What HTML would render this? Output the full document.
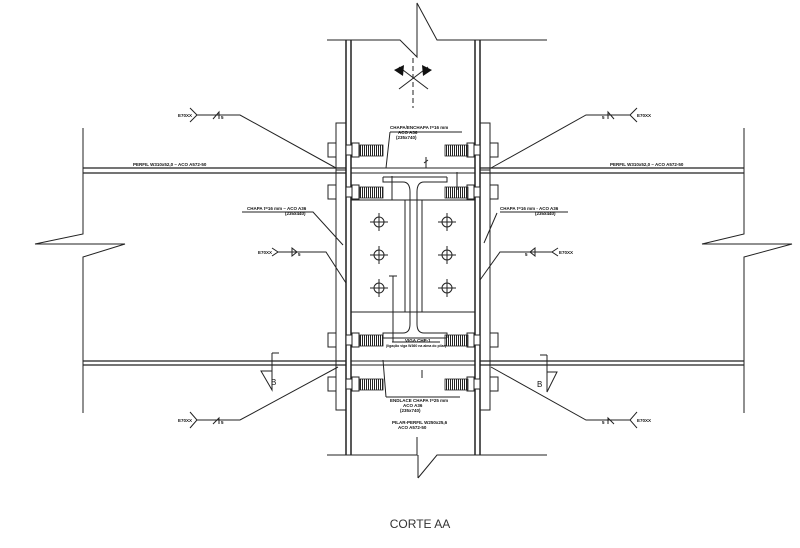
<!DOCTYPE html>
<html><head><meta charset="utf-8"><style>
html,body{margin:0;padding:0;background:#fff;width:800px;height:548px;overflow:hidden}
svg{display:block}
text{font-family:"Liberation Sans",sans-serif;fill:#111}
.t{font-size:4.5px;font-weight:bold}
</style></head><body>
<svg width="800" height="548" viewBox="0 0 800 548" xmlns="http://www.w3.org/2000/svg">
<g fill="none" stroke="#222" stroke-width="1">
<path d="M327 40 H400 L417 57 V3 L437 40 H547"/>
<path d="M327 455 H417 V437 M418 478 L437 455 H547 M418 455 V478"/>
<line x1="346" y1="40" x2="346" y2="455" stroke-width="1.5"/>
<line x1="351" y1="40" x2="351" y2="455" stroke-width="1.5"/>
<line x1="475" y1="40" x2="475" y2="455" stroke-width="1.5"/>
<line x1="480" y1="40" x2="480" y2="455" stroke-width="1.5"/>
<line x1="413" y1="58" x2="413" y2="108" stroke-dasharray="5,3"/>
<line x1="399" y1="89" x2="428" y2="67"/>
<line x1="399" y1="67" x2="428" y2="89"/>
<path d="M83 128 V234 L35 244 L125 244 L83 257 V413"/>
<line x1="83" y1="168" x2="346" y2="168" stroke-width="1.3"/>
<line x1="83" y1="173" x2="346" y2="173" stroke-width="1.3"/>
<line x1="83" y1="361" x2="346" y2="361" stroke-width="1.3"/>
<line x1="83" y1="365" x2="346" y2="365" stroke-width="1.3"/>
<path d="M744 128 V234 L702 244 L792 244 L744 257 V413"/>
<line x1="480" y1="168" x2="744" y2="168" stroke-width="1.3"/>
<line x1="480" y1="173" x2="744" y2="173" stroke-width="1.3"/>
<line x1="480" y1="361" x2="744" y2="361" stroke-width="1.3"/>
<line x1="480" y1="365" x2="744" y2="365" stroke-width="1.3"/>
<line x1="351" y1="168" x2="475" y2="168"/>
<line x1="351" y1="173" x2="475" y2="173"/>
<line x1="351" y1="361" x2="475" y2="361"/>
<line x1="351" y1="365" x2="475" y2="365"/>
<rect x="336" y="123" width="10" height="287"/>
<rect x="480" y="123" width="10" height="287"/>
<line x1="336" y1="170" x2="346" y2="170"/><line x1="480" y1="170" x2="490" y2="170"/>
<line x1="336" y1="365" x2="346" y2="365"/><line x1="480" y1="365" x2="490" y2="365"/>
<line x1="351" y1="200" x2="475" y2="200"/>
<line x1="351" y1="312" x2="475" y2="312"/>
<line x1="405" y1="200" x2="405" y2="312"/>
<line x1="422" y1="200" x2="422" y2="312"/>
<!-- short I profile -->
<path d="M383 177 H447"/>
<path d="M383 177 V182 H403 Q410 182 410 192 V324 Q410 333 403 333 H383 V338"/>
<path d="M447 177 V182 H424 Q417 182 417 192 V324 Q417 333 424 333 H447 V338"/>
<path d="M383 338 H447"/>
</g>
<g fill="#fff" stroke="#222" stroke-width="1">
<g id="b">
<rect x="328" y="143" width="8" height="14"/><rect x="346" y="145" width="6" height="10"/>
<rect x="352" y="143" width="7" height="14"/>
<line x1="336" y1="147" x2="336" y2="153"/>
</g>
<use href="#b" y="42"/><use href="#b" y="190"/><use href="#b" y="234"/>
<g transform="translate(826,0) scale(-1,1)"><use href="#b"/><use href="#b" y="42"/><use href="#b" y="190"/><use href="#b" y="234"/></g>
</g>
<defs><pattern id="th" width="2" height="4" patternUnits="userSpaceOnUse"><line x1="0.5" y1="0" x2="0.5" y2="4" stroke="#222" stroke-width="1"/></pattern></defs>
<g fill="url(#th)" stroke="#222" stroke-width="0.8">
<rect x="360" y="145" width="23" height="11"/><rect x="360" y="187" width="23" height="11"/>
<rect x="360" y="335" width="23" height="11"/><rect x="360" y="379" width="23" height="11"/>
<rect x="445" y="145" width="23" height="11"/><rect x="445" y="187" width="23" height="11"/>
<rect x="445" y="335" width="23" height="11"/><rect x="445" y="379" width="23" height="11"/>
</g>
<g fill="none" stroke="#222" stroke-width="1">
<g id="h"><circle cx="379" cy="222" r="5"/><line x1="370" y1="222" x2="388" y2="222"/><line x1="379" y1="213" x2="379" y2="231"/></g>
<use href="#h" y="33"/><use href="#h" y="66"/><use href="#h" x="68"/><use href="#h" x="68" y="33"/><use href="#h" x="68" y="66"/>
</g>
<polygon points="394,70 404,65 403,76" fill="#111"/>
<polygon points="432,70 422,65 423,76" fill="#111"/>
<g fill="none" stroke="#222" stroke-width="1">
<path d="M190 108 L197 115 L190 122 M197 115 H240 L336 168"/>
<path d="M213 119 L219 112 V119"/>
<path d="M637 108 L630 115 L637 122 M630 115 H586 L491 168"/>
<path d="M614 119 L608 112 V119"/>
<path d="M190 412 L197 420 L190 428 M197 420 H240 L338 367"/>
<path d="M213 424 L219 418 V424"/>
<path d="M637 412 L630 420 L637 428 M630 420 H586 L491 367"/>
<path d="M614 424 L608 418 V424"/>
<path d="M272 248 L278 252 L272 256 M278 252 H326 L346 283"/>
<path d="M292 248 L297 252 L292 256 Z"/>
<path d="M558 248 L552 252 L558 256 M552 252 H500 L480 280"/>
<path d="M535 248 L530 252 L535 256 Z"/>
<path d="M242 212 H313 L343 245"/>
<path d="M500 212 H568 M497 213 L484 243"/>
<path d="M272 353 H279 M272 353 V390 L261 371 H272"/>
<path d="M547 355 H540 M547 355 V392 L557 372 H547"/>
<path d="M390 132 H462 M390 132 L386 168"/>
<path d="M386 397 H460 M386 397 L383 360"/>
<path d="M393 276 V342 M389 276 H397 M392 342 H440"/>
<path d="M426 157 V168 M424 163 L428 160"/>
<path d="M422 378 V370"/>
<path d="M392 176 V200"/>
<path d="M457 172 V190"/>
</g>
<g class="t">
<text x="390" y="129">CHAPA/ENCHAPA t=16 mm</text>
<text x="398" y="134">ACO A36</text>
<text x="396" y="139">(235x740)</text>
<text x="133" y="166">PERFIL W310x52,0 – ACO A572-50</text>
<text x="610" y="166">PERFIL W310x52,0 – ACO A572-50</text>
<text x="247" y="210">CHAPA t=16 mm – ACO A36</text>
<text x="285" y="215">(235x440)</text>
<text x="500" y="210">CHAPA t=16 mm - ACO A36</text>
<text x="535" y="215">(235x440)</text>
<text x="178" y="117">E70XX</text>
<text x="637" y="117">E70XX</text>
<text x="178" y="422">E70XX</text>
<text x="637" y="422">E70XX</text>
<text x="258" y="254">E70XX</text>
<text x="559" y="254">E70XX</text>
<text x="221" y="119">5</text><text x="602" y="119">5</text>
<text x="221" y="424">5</text><text x="602" y="424">5</text>
<text x="298" y="256">5</text><text x="525" y="256">5</text>
<text x="405" y="342">VIGA CHP-1</text>
<text x="386" y="347" style="font-size:3.5px">(ligação viga W360 na alma do pilar)</text>
<text x="390" y="402">ENDLACE CHAPA t=25 mm</text>
<text x="403" y="407">ACO A36</text>
<text x="400" y="412">(235x740)</text>
<text x="392" y="424">PILAR-PERFIL W250x25,6</text>
<text x="398" y="429">ACO A572-50</text>
</g>
<text x="271" y="385" style="font-size:8px">B</text>
<text x="537" y="387" style="font-size:8px">B</text>
<text x="420" y="528" text-anchor="middle" style="font-size:12px;fill:#333">CORTE AA</text>
</svg>
</body></html>
